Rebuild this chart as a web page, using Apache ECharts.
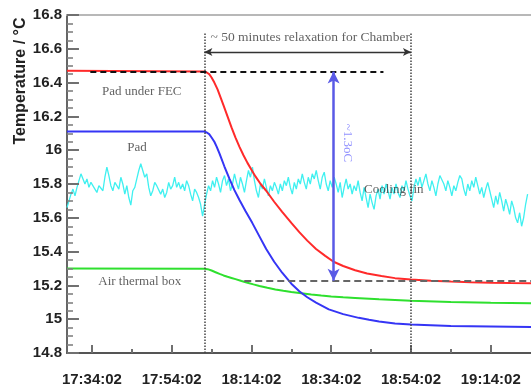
<!DOCTYPE html>
<html>
<head>
<meta charset="utf-8">
<script src="https://cdn.jsdelivr.net/npm/echarts@6/dist/echarts.min.js"></script>
<style>html,body{margin:0;padding:0;background:#fff}#c{width:531px;height:388px}</style>
</head>
<body>
<div id="c"></div>
<script>
// ---- data (time in minutes after 17:34:02, temperature in °C) ----
const xTickMinutes = [0, 20, 40, 60, 80, 100];
const xTickLabels = ['17:34:02', '17:54:02', '18:14:02', '18:34:02', '18:54:02', '19:14:02'];
const xMinorMinutes = [10, 30, 50, 70, 90];
const yTickValues = [14.8, 15, 15.2, 15.4, 15.6, 15.8, 16, 16.2, 16.4, 16.6, 16.8];
const yTickLabels = ['14.8', '15', '15.2', '15.4', '15.6', '15.8', '16', '16.2', '16.4', '16.6', '16.8'];
const yMinorValues = [14.85, 14.9, 14.95, 15.05, 15.1, 15.15, 15.25, 15.3, 15.35, 15.45, 15.5, 15.55, 15.65, 15.7, 15.75, 15.85, 15.9, 15.95, 16.05, 16.1, 16.15, 16.25, 16.3, 16.35, 16.45, 16.5, 16.55, 16.65, 16.7, 16.75];

const redTime = [-6.25, 28.2, 28.8, 29.4, 30, 30.7, 31.5, 32.3, 33, 34, 35, 36, 37, 38, 39, 40, 41, 42.3, 43.7, 45.7, 47.7, 50, 52, 54, 56.2, 58.5, 60.6, 63, 66, 69, 72.6, 76, 80, 85, 90, 95, 100, 105, 110.1];
const redTemp = [16.47, 16.465, 16.46, 16.45, 16.43, 16.40, 16.36, 16.31, 16.265, 16.20, 16.135, 16.075, 16.02, 15.97, 15.925, 15.885, 15.845, 15.80, 15.76, 15.695, 15.635, 15.57, 15.515, 15.465, 15.415, 15.375, 15.34, 15.315, 15.29, 15.27, 15.255, 15.243, 15.235, 15.228, 15.223, 15.219, 15.216, 15.214, 15.213];

const blueTime = [-6.25, 28.2, 28.8, 29.4, 30, 30.7, 31.3, 32, 33.2, 34.5, 35.7, 37, 38.5, 40.2, 42, 43.7, 45.7, 47.7, 50, 52, 54, 56.2, 59.4, 63, 66.9, 69.5, 72, 76, 80, 90, 100, 110.1];
const blueTemp = [16.11, 16.11, 16.105, 16.095, 16.075, 16.05, 16.02, 15.98, 15.905, 15.83, 15.765, 15.705, 15.64, 15.57, 15.49, 15.415, 15.34, 15.275, 15.21, 15.165, 15.13, 15.098, 15.058, 15.03, 15.008, 14.997, 14.987, 14.975, 14.968, 14.96, 14.957, 14.954];

const greenTime = [-6.25, 28.2, 29, 30, 31, 32, 33, 34, 35, 36, 37.5, 39, 40.5, 42, 44, 46, 48, 50, 52.5, 55, 57.5, 60, 63, 66, 72, 80, 90, 100, 110.1];
const greenTemp = [15.30, 15.298, 15.296, 15.288, 15.278, 15.268, 15.259, 15.251, 15.244, 15.237, 15.226, 15.216, 15.206, 15.197, 15.186, 15.176, 15.168, 15.161, 15.153, 15.146, 15.14, 15.135, 15.13, 15.126, 15.118, 15.109, 15.102, 15.098, 15.095];

// cooling fin: sampled every 0.5 min starting at -6.25 min
const cyanStart = -6.25;
const cyanStep = 0.5;
const cyanTemp = [
 15.66,15.70,15.74,15.77,15.73,15.78,15.82,15.86,15.87,15.80,
 15.83,15.78,15.81,15.82,15.77,15.75,15.79,15.80,15.76,15.84,
 15.90,15.85,15.79,15.76,15.81,15.79,15.77,15.84,15.80,15.74,
 15.79,15.72,15.675,15.76,15.78,15.83,15.88,15.92,15.88,15.84,
 15.86,15.78,15.73,15.76,15.81,15.79,15.80,15.74,15.77,15.72,
 15.75,15.81,15.77,15.79,15.84,15.78,15.81,15.77,15.80,15.76,
 15.82,15.79,15.74,15.70,15.77,15.75,15.72,15.68,15.61,
 15.68,15.74,15.79,15.76,15.82,15.78,15.84,15.80,15.75,15.82,
 15.85,15.79,15.83,15.76,15.80,15.86,15.81,15.77,15.84,15.80,
 15.75,15.82,15.88,15.84,15.90,15.82,15.76,15.72,15.80,15.77,
 15.83,15.78,15.73,15.79,15.76,15.81,15.78,15.74,15.80,15.76,
 15.82,15.79,15.84,15.78,15.74,15.81,15.77,15.83,15.80,15.86,
 15.81,15.77,15.84,15.80,15.86,15.83,15.88,15.82,15.77,15.84,
 15.87,15.80,
 15.76,15.82,15.78,15.84,15.80,15.75,15.81,15.72,15.78,15.83,
 15.77,15.80,15.74,15.79,15.76,15.82,15.75,15.70,15.78,15.72,
 15.66,15.74,15.69,15.65,15.73,15.77,15.71,15.79,15.74,15.80,
 15.76,15.71,15.78,15.74,15.80,15.75,15.72,15.79,15.76,15.82,
 15.77,15.73,15.70,15.78,15.83,15.79,15.84,15.78,15.82,15.86,
 15.80,15.76,15.82,15.78,15.73,15.80,15.85,15.86,15.80,15.76,
 15.82,15.78,15.73,15.79,15.76,15.81,15.85,15.83,15.77,15.73,
 15.80,15.76,15.82,15.78,15.84,15.79,15.74,15.78,15.72,15.77,
 15.81,15.76,15.71,15.66,15.73,15.68,15.75,15.70,15.64,15.71,
 15.67,15.62,15.70,15.66,15.60,15.57,15.63,15.55,15.60,15.68,
 15.74
];

// reference levels
const startLevel = 16.465;     // Pad under FEC before relaxation
const endLevel = 15.228;       // Pad under FEC after relaxation
const relaxStart = 28.2;       // ~18:02
const relaxEnd = 80;           // 18:54:02

// ---- chart ----
const X_MIN = -6.25, X_MAX = 110.1, Y_MIN = 14.8, Y_MAX = 16.8;
const MAJOR_LEN = 3.0, MINOR_LEN = 1.5;     // tick lengths along time axis (minutes ≈ 12px / 6px)
const sans = 'Liberation Sans, Arial, sans-serif';
const serif = 'Liberation Serif, Times New Roman, serif';
const zip = (t, v) => t.map((x, i) => [x, v[i]]);
const cyanData = cyanTemp.map((v, i) => [cyanStart + i * cyanStep, v]);

const chart = echarts.init(document.getElementById('c'), null, {renderer: 'canvas'});

const noteLabel = (text, x, y, extra) => ({
  value: [x, y],
  label: Object.assign({show: true, formatter: text, fontFamily: serif, fontSize: 13, color: '#3a3a3a', position: 'inside'}, extra || {})
});

const yTickLines = yTickValues.map(v => [{coord: [X_MIN, v], lineStyle: {color: '#707070', width: 2, type: 'solid'}}, {coord: [X_MIN + MAJOR_LEN, v]}])
  .concat(yMinorValues.map(v => [{coord: [X_MIN, v], lineStyle: {color: '#808080', width: 1.6, type: 'solid'}}, {coord: [X_MIN + MINOR_LEN, v]}]));

const option = {
  animation: false,
  grid: {left: 67, right: -3, top: 15, bottom: 35, show: false},
  xAxis: [{
    type: 'value', min: X_MIN, max: X_MAX,
    axisLine: {show: true, onZero: false, lineStyle: {color: '#555', width: 2}},
    splitLine: {show: false},
    axisTick: {show: true, inside: true, length: 8, customValues: xTickMinutes, lineStyle: {color: '#707070', width: 2}},
    axisLabel: {
      customValues: xTickMinutes,
      formatter: v => xTickLabels[xTickMinutes.indexOf(Math.round(v))] || '',
      margin: 19, fontFamily: sans, fontWeight: 'bold', fontSize: 15, color: '#222'
    }
  }, {
    type: 'value', min: X_MIN, max: X_MAX, position: 'bottom',
    axisLine: {show: false, onZero: false}, splitLine: {show: false}, axisLabel: {show: false},
    axisTick: {show: true, inside: true, length: 4, customValues: xMinorMinutes, lineStyle: {color: '#707070', width: 2}}
  }, {
    type: 'value', min: X_MIN, max: X_MAX, position: 'top',
    axisLine: {show: true, onZero: false, lineStyle: {color: '#b8b8b8', width: 2}},
    splitLine: {show: false}, axisLabel: {show: false}, axisTick: {show: false}
  }],
  yAxis: {
    type: 'value', min: Y_MIN, max: Y_MAX, position: 'left',
    axisLine: {show: true, onZero: false, lineStyle: {color: '#666', width: 2}},
    axisTick: {show: false},
    splitLine: {show: false},
    axisLabel: {
      customValues: yTickValues,
      formatter: v => yTickLabels[yTickValues.findIndex(t => Math.abs(t - v) < 1e-6)] || '',
      margin: 5, fontFamily: sans, fontWeight: 'bold', fontSize: 15, color: '#222'
    }
  },
  graphic: [{
    type: 'text', x: 21, y: 81, rotation: Math.PI / 2,
    style: {text: 'Temperature / °C', font: 'bold 16px Liberation Sans, Arial, sans-serif', fill: '#222', align: 'center', verticalAlign: 'middle'}
  }],
  series: [
    {name: 'Cooling fin', type: 'line', data: cyanData, showSymbol: false, lineStyle: {color: '#3ff0f0', width: 1.3}, z: 2},
    {name: 'Air thermal box', type: 'line', data: zip(greenTime, greenTemp), showSymbol: false, lineStyle: {color: '#2ee02e', width: 2}, z: 3},
    {name: 'Pad', type: 'line', data: zip(blueTime, blueTemp), showSymbol: false, lineStyle: {color: '#3535f5', width: 2}, z: 3},
    {name: 'Pad under FEC', type: 'line', data: zip(redTime, redTemp), showSymbol: false, lineStyle: {color: '#ff2a2a', width: 2}, z: 3},
    {
      name: 'yticks', type: 'line', data: [], silent: true, z: 6,
      markLine: {silent: true, animation: false, symbol: ['none', 'none'], label: {show: false}, data: yTickLines}
    },
    {
      name: 'notes', type: 'scatter', symbolSize: 1, itemStyle: {color: 'rgba(0,0,0,0)'}, z: 5, silent: true,
      data: [
        noteLabel('Pad under FEC', 12.5, 16.344),
        noteLabel('Pad', 11.3, 16.013),
        noteLabel('Air thermal box', 12.0, 15.22),
        noteLabel('Cooling fin', 75.7, 15.765),
        noteLabel('~ 50 minutes relaxation for Chamber', 29.6, 16.67, {align: 'left', position: 'right', distance: 0, fontSize: 13.5}),
        noteLabel('~1.3oC', 64.0, 16.043, {rotate: -90, color: '#7474ff'})
      ],
      markLine: {
        silent: true, animation: false, symbol: ['none', 'none'], label: {show: false},
        data: [
          [{coord: [relaxStart, 16.69], lineStyle: {type: 'dotted', color: '#444', width: 1.5}}, {coord: [relaxStart, Y_MIN]}],
          [{coord: [relaxEnd, 16.69], lineStyle: {type: 'dotted', color: '#444', width: 1.5}}, {coord: [relaxEnd, Y_MIN]}],
          [{coord: [-0.4, startLevel], lineStyle: {type: [6, 4], color: '#111', width: 1.8}}, {coord: [73.1, startLevel]}],
          [{coord: [38.2, endLevel], lineStyle: {type: [7, 4], color: '#666', width: 2}}, {coord: [X_MAX, endLevel]}],
          [{coord: [relaxStart, 16.581], symbol: 'arrow', symbolSize: [6, 8], lineStyle: {type: 'solid', color: '#333', width: 1.3}},
           {coord: [relaxEnd, 16.581], symbol: 'arrow', symbolSize: [6, 8]}],
          [{coord: [60.6, startLevel], symbol: 'arrow', symbolSize: [9, 12], lineStyle: {type: 'solid', color: '#5a5ae6', width: 2.5}},
           {coord: [60.6, endLevel], symbol: 'arrow', symbolSize: [9, 12]}]
        ]
      }
    }
  ]
};
chart.setOption(option);
</script>
</body>
</html>
